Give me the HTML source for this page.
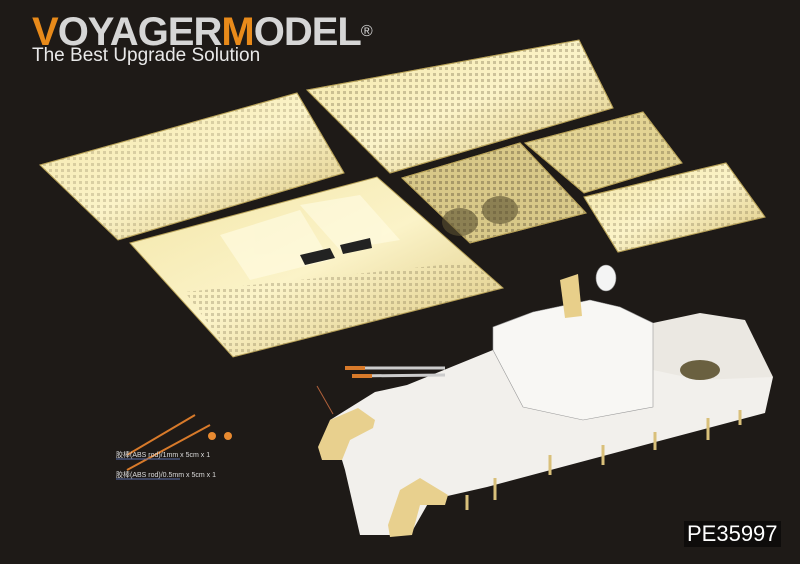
<!DOCTYPE html>
<html><head><meta charset="utf-8"><style>
html,body{margin:0;padding:0;background:#1e1a17;}
body{width:800px;height:564px;overflow:hidden;position:relative;font-family:"Liberation Sans","Noto Sans CJK SC",sans-serif;}
.logo{position:absolute;left:32px;top:12px;font-weight:bold;font-size:40px;color:#d6d6d6;letter-spacing:-1px;line-height:40px;}
.logo b{color:#e88a1a;}
.sub{position:absolute;left:32px;top:46px;font-size:19px;color:#e8e8e8;line-height:20px;}
.pe{position:absolute;left:684px;top:521px;font-size:22px;color:#fff;background:#0e0c0b;padding:0 3px;line-height:26px;}
.lab{position:absolute;font-size:7px;color:#ddd;}
</style></head><body>
<svg width="800" height="564" style="position:absolute;left:0;top:0">
<defs>
<linearGradient id="g" x1="0" y1="0" x2="1" y2="1"><stop offset="0" stop-color="#f3e6a8"/><stop offset=".5" stop-color="#fbf3c8"/><stop offset="1" stop-color="#d9c37a"/></linearGradient>
<pattern id="p" width="6" height="6" patternUnits="userSpaceOnUse"><rect x="1" y="1" width="3" height="3" fill="#6d6040" opacity=".45"/></pattern>
</defs>
<g stroke="#b9a35a" stroke-width="1">
<polygon points="40,165 297,93 344,173 118,240" fill="url(#g)"/>
<polygon points="40,165 297,93 344,173 118,240" fill="url(#p)" opacity=".5"/>
<polygon points="307,90 579,40 613,108 390,173" fill="url(#g)"/>
<polygon points="307,90 579,40 613,108 390,173" fill="url(#p)" opacity=".7"/>
<polygon points="130,243 377,177 503,288 233,357" fill="url(#g)"/>
<polygon points="402,178 520,143 586,213 470,243" fill="#d8c888"/>
<polygon points="402,178 520,143 586,213 470,243" fill="url(#p)"/>
<polygon points="525,143 643,112 682,163 584,193" fill="#e3d494"/>
<polygon points="525,143 643,112 682,163 584,193" fill="url(#p)" opacity=".8"/>
<polygon points="584,197 726,163 765,217 618,252" fill="url(#g)"/>
<polygon points="584,197 726,163 765,217 618,252" fill="url(#p)" opacity=".6"/>
</g>
<polygon points="185,292 470,262 503,288 233,357" fill="url(#p)" opacity=".6"/>
<g fill="#fffbe0" opacity=".7">
<polygon points="220,235 300,210 330,260 250,280"/><polygon points="300,205 360,195 400,240 340,250"/>
</g>
<g fill="#222"><polygon points="300,255 330,248 335,258 305,265"/><polygon points="340,245 370,238 372,248 343,254"/></g>
<ellipse cx="460" cy="222" rx="18" ry="14" fill="#5a5030" opacity=".6"/>
<ellipse cx="500" cy="210" rx="18" ry="14" fill="#5a5030" opacity=".6"/>
<polygon points="330,420 375,392 407,385 493,350 653,323 773,377 765,413 663,440 487,487 430,500 410,535 360,535 345,470" fill="#f2f0ec"/>
<polygon points="653,323 700,313 745,320 773,377 700,380 653,370" fill="#ebe8e2"/>
<polygon points="493,327 533,312 590,300 620,307 653,323 653,407 583,420 523,407 493,350" fill="#f8f7f4" stroke="#999" stroke-width=".6"/>
<ellipse cx="606" cy="278" rx="10" ry="13" fill="#f4f4f4" stroke="#888" stroke-width=".6"/>
<polygon points="560,280 578,274 582,316 565,318" fill="#e8cf8a"/>
<line x1="345" y1="368" x2="445" y2="368" stroke="#ccc" stroke-width="3"/>
<line x1="352" y1="376" x2="445" y2="375" stroke="#ccc" stroke-width="3"/>
<line x1="345" y1="368" x2="365" y2="368" stroke="#d87a2a" stroke-width="4"/>
<line x1="352" y1="376" x2="372" y2="376" stroke="#d87a2a" stroke-width="4"/>
<line x1="317" y1="386" x2="333" y2="414" stroke="#b0603a" stroke-width="1"/>
<ellipse cx="700" cy="370" rx="20" ry="10" fill="#6a6040"/>
<polygon points="318,447 330,420 358,408 375,420 373,428 350,440 342,460 322,460" fill="#e8d08e"/>
<polygon points="388,525 400,490 420,478 448,495 445,505 420,505 412,535 390,537" fill="#e8d08e"/>
<g stroke="#d9c07a" stroke-width="3">
<line x1="467" y1="495" x2="467" y2="510"/><line x1="495" y1="478" x2="495" y2="500"/>
<line x1="550" y1="455" x2="550" y2="475"/><line x1="603" y1="445" x2="603" y2="465"/>
<line x1="655" y1="432" x2="655" y2="450"/><line x1="708" y1="418" x2="708" y2="440"/>
<line x1="740" y1="410" x2="740" y2="425"/></g>
<line x1="127" y1="455" x2="195" y2="415" stroke="#d87a2a" stroke-width="2"/>
<line x1="127" y1="470" x2="210" y2="425" stroke="#d87a2a" stroke-width="2"/>
<circle cx="212" cy="436" r="4" fill="#e88a30"/><circle cx="228" cy="436" r="4" fill="#e88a30"/>
<line x1="116" y1="459" x2="180" y2="459" stroke="#5a6ea8" stroke-width="1"/>
<line x1="116" y1="479" x2="180" y2="479" stroke="#5a6ea8" stroke-width="1"/>
</svg>
<div class="logo"><b>V</b>OYAGER<b>M</b>ODEL<span style="font-size:16px;vertical-align:top;font-weight:normal">®</span></div>
<div class="sub">The Best Upgrade Solution</div>
<div class="lab" style="left:116px;top:450px">胶棒(ABS rod)/1mm x 5cm x 1</div>
<div class="lab" style="left:116px;top:470px">胶棒(ABS rod)/0.5mm x 5cm x 1</div>
<div class="pe">PE35997</div>
</body></html>
